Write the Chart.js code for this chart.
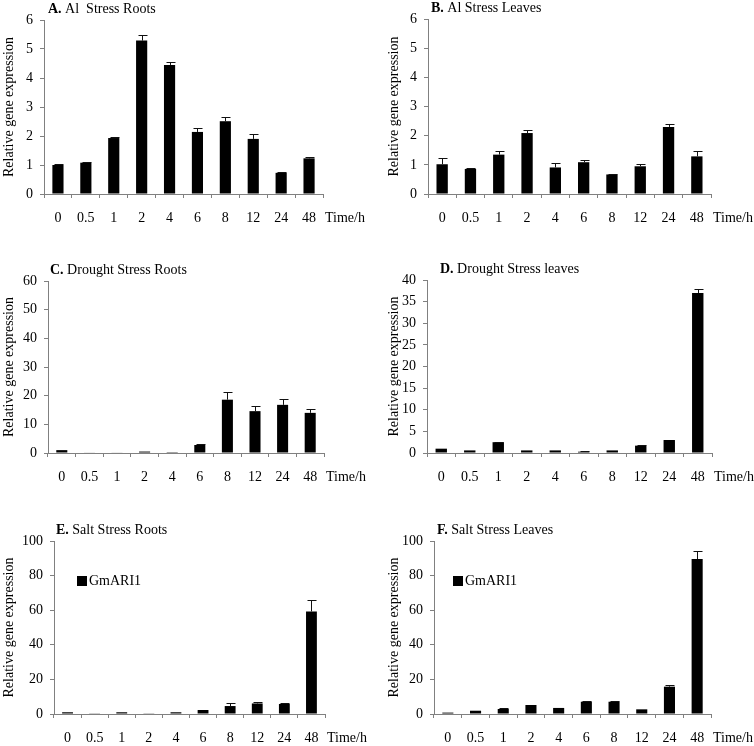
<!DOCTYPE html>
<html>
<head>
<meta charset="utf-8">
<script src="https://cdn.jsdelivr.net/npm/chart.js@4.4.1/dist/chart.umd.min.js"></script>
<style>
    body { margin: 0; background: #fff; }
    #wrap { position: relative; width: 754px; height: 746px; }
    #wrap canvas { position: absolute; }
</style>
</head>
<body>
<div id="wrap">
    <canvas id="panelA" width="377" height="230" style="left:0;top:0"></canvas>
    <canvas id="panelB" width="377" height="230" style="left:377px;top:0"></canvas>
    <canvas id="panelC" width="377" height="260" style="left:0;top:230px"></canvas>
    <canvas id="panelD" width="377" height="260" style="left:377px;top:230px"></canvas>
    <canvas id="panelE" width="377" height="256" style="left:0;top:490px"></canvas>
    <canvas id="panelF" width="377" height="256" style="left:377px;top:490px"></canvas>
</div>
<script>
// ---------------- DATA ----------------
const timeLabels = ['0', '0.5', '1', '2', '4', '6', '8', '12', '24', '48'];

const alRoots = [1.00, 1.08, 1.93, 5.29, 4.45, 2.14, 2.51, 1.90, 0.73, 1.23];
const alRootsErr = [0.02, 0.03, 0.05, 0.21, 0.09, 0.14, 0.14, 0.16, 0.02, 0.05];

const alLeaves = [1.02, 0.86, 1.35, 2.09, 0.91, 1.09, 0.67, 0.95, 2.30, 1.29];
const alLeavesErr = [0.20, 0.04, 0.14, 0.10, 0.16, 0.07, 0.02, 0.07, 0.09, 0.19];

const droughtRoots = [1.0, 0.2, 0.2, 0.5, 0.3, 2.8, 18.6, 14.6, 16.8, 14.0];
const droughtRootsErr = [0, 0, 0, 0, 0, 0.3, 2.6, 1.9, 2.0, 1.3];

const droughtLeaves = [1.0, 0.6, 2.5, 0.6, 0.6, 0.3, 0.6, 1.7, 3.0, 37.0];
const droughtLeavesErr = [0, 0, 0.15, 0, 0, 0.15, 0, 0.15, 0, 0.85];

const saltRoots = [1.0, 0.4, 1.0, 0.4, 1.0, 2.3, 4.6, 6.1, 5.8, 59.3];
const saltRootsErr = [0, 0, 0, 0, 0, 0, 1.7, 0.6, 0.6, 6.5];

const saltLeaves = [0.8, 1.9, 2.9, 5.2, 3.5, 7.1, 7.1, 2.7, 15.8, 89.6];
const saltLeavesErr = [0, 0, 0.4, 0, 0, 0.4, 0.4, 0, 1.2, 4.8];

const seriesName = 'GmARI1';
const yTitle = 'Relative gene expression';
const xUnit = 'Time/h';

// ---------------- PLUGINS ----------------
const FONT = '"Liberation Serif", "Times New Roman", serif';

const errorBars = {
    id: 'errorBars',
    afterDatasetsDraw(chart, args, opts) {
        const ds = chart.data.datasets[0];
        const meta = chart.getDatasetMeta(0);
        const yScale = chart.scales.y;
        const ctx = chart.ctx;
        ctx.save();
        ctx.strokeStyle = '#111';
        ctx.lineWidth = 1;
        meta.data.forEach((bar, i) => {
            const e = opts.values[i];
            if (!e) return;
            const x = Math.round(bar.x) + 0.5;
            const top = Math.round(yScale.getPixelForValue(ds.data[i] + e)) + 0.5;
            ctx.beginPath();
            ctx.moveTo(x, bar.y);
            ctx.lineTo(x, top);
            ctx.moveTo(x - 4, top);
            ctx.lineTo(x + 5, top);
            ctx.stroke();
        });
        ctx.restore();
    }
};

const panelDecor = {
    id: 'panelDecor',
    afterDraw(chart, args, opts) {
        const ctx = chart.ctx;
        const area = chart.chartArea;
        ctx.save();
        ctx.fillStyle = '#000';
        ctx.textBaseline = 'middle';

        // panel title: bold letter + plain text
        const tx = area.left + opts.titleDx;
        const ty = area.top - 11;
        ctx.font = 'bold 14px ' + FONT;
        ctx.fillText(opts.letter, tx, ty);
        const w = ctx.measureText(opts.letter + ' ').width;
        ctx.font = '14px ' + FONT;
        ctx.fillText(opts.title, tx + w, ty);

        // unit label after last tick
        const xs = chart.scales.x;
        ctx.fillText(xUnit, area.right + 2, xs.top + 4 + 12 + 8.4);

        // legend box
        if (opts.legendDx != null) {
            const lx = area.left + opts.legendDx;
            const ly = area.top + 40;
            ctx.fillRect(lx, ly - 5, 10, 10);
            ctx.fillText(seriesName, lx + 12, ly);
        }
        ctx.restore();
    }
};

// ---------------- CHARTS ----------------
function makePanel(canvasId, panel) {
    const canvas = document.getElementById(canvasId);
    const padLeft = panel.titleX - 10;
    const yWidth = panel.L - padLeft;

    return new Chart(canvas.getContext('2d'), {
        type: 'bar',
        data: {
            labels: timeLabels,
            datasets: [{
                label: seriesName,
                data: panel.values,
                backgroundColor: '#000',
                borderWidth: 0,
                categoryPercentage: 1,
                barPercentage: 0.4
            }]
        },
        options: {
            responsive: false,
            animation: false,
            devicePixelRatio: 1,
            layout: {
                padding: {
                    left: padLeft,
                    top: panel.T,
                    right: canvas.width - panel.R,
                    bottom: canvas.height - panel.B - 30
                }
            },
            plugins: {
                legend: { display: false },
                tooltip: { enabled: false },
                errorBars: { values: panel.errors },
                panelDecor: {
                    letter: panel.letter,
                    title: panel.title,
                    titleDx: panel.titleDx,
                    legendDx: panel.legendDx
                }
            },
            scales: {
                x: {
                    afterFit: s => { s.height = 30; },
                    grid: {
                        offset: true,
                        drawOnChartArea: false,
                        tickLength: 4,
                        tickColor: '#808080'
                    },
                    border: { color: '#808080' },
                    ticks: {
                        color: '#000',
                        padding: 12,
                        maxRotation: 0,
                        autoSkip: false,
                        font: { family: FONT, size: 14 }
                    }
                },
                y: {
                    min: 0,
                    max: panel.max,
                    afterFit: s => { s.width = yWidth; },
                    grid: {
                        drawOnChartArea: false,
                        tickLength: 4,
                        tickColor: '#808080'
                    },
                    border: { color: '#808080' },
                    ticks: {
                        color: '#000',
                        stepSize: panel.step,
                        padding: 7,
                        font: { family: FONT, size: 14 }
                    },
                    title: {
                        display: true,
                        text: yTitle,
                        color: '#000',
                        padding: { top: 1, bottom: 0 },
                        font: { family: FONT, size: 14 }
                    }
                }
            }
        },
        plugins: [errorBars, panelDecor]
    });
}

makePanel('panelA', {
    letter: 'A.', title: 'Al  Stress Roots', titleDx: 4,
    values: alRoots, errors: alRootsErr, max: 6, step: 1,
    L: 44, T: 20, R: 323, B: 194, titleX: 10
});
makePanel('panelB', {
    letter: 'B.', title: 'Al Stress Leaves', titleDx: 3,
    values: alLeaves, errors: alLeavesErr, max: 6, step: 1,
    L: 51, T: 19, R: 334, B: 194, titleX: 18
});
makePanel('panelC', {
    letter: 'C.', title: 'Drought Stress Roots', titleDx: 2,
    values: droughtRoots, errors: droughtRootsErr, max: 60, step: 10,
    L: 48, T: 51, R: 324, B: 223, titleX: 10
});
makePanel('panelD', {
    letter: 'D.', title: 'Drought Stress leaves', titleDx: 13,
    values: droughtLeaves, errors: droughtLeavesErr, max: 40, step: 5,
    L: 50, T: 50, R: 335, B: 223, titleX: 18
});
makePanel('panelE', {
    letter: 'E.', title: 'Salt Stress Roots', titleDx: 2,
    values: saltRoots, errors: saltRootsErr, max: 100, step: 20,
    L: 54, T: 51, R: 325, B: 224, titleX: 10, legendDx: 23
});
makePanel('panelF', {
    letter: 'F.', title: 'Salt Stress Leaves', titleDx: 3,
    values: saltLeaves, errors: saltLeavesErr, max: 100, step: 20,
    L: 57, T: 51, R: 334, B: 224, titleX: 18, legendDx: 19
});
</script>
</body>
</html>
